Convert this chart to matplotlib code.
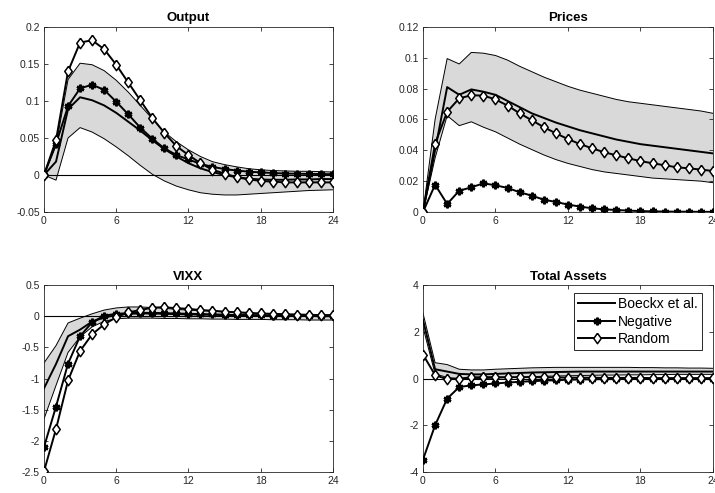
import numpy as np
import matplotlib
matplotlib.use('Agg')
import matplotlib.pyplot as plt
from matplotlib.ticker import FuncFormatter

plt.rcParams['font.family'] = ['Liberation Sans', 'DejaVu Sans']
plt.rcParams['axes.unicode_minus'] = False

horizon = np.arange(25)

# Output
out_boeckx = [0, 0.018, 0.089, 0.105, 0.101, 0.094, 0.084, 0.072, 0.060, 0.047, 0.035, 0.025,
              0.016, 0.009, 0.004, 0.0, -0.003, -0.005, -0.006, -0.0065, -0.0065, -0.006, -0.006, -0.0055, -0.0055]
out_upper = [0, 0.040, 0.129, 0.151, 0.149, 0.141, 0.128, 0.112, 0.094, 0.076, 0.058, 0.045,
             0.034, 0.025, 0.018, 0.014, 0.011, 0.0085, 0.007, 0.006, 0.0055, 0.005, 0.005, 0.0045, 0.004]
out_lower = [0, -0.007, 0.050, 0.064, 0.058, 0.049, 0.038, 0.026, 0.013, 0.001, -0.008, -0.015,
             -0.020, -0.024, -0.026, -0.027, -0.027, -0.026, -0.025, -0.024, -0.023, -0.022, -0.021, -0.0205, -0.020]
out_negative = [0, 0.042, 0.093, 0.117, 0.122, 0.115, 0.099, 0.082, 0.064, 0.049, 0.036, 0.027,
                0.021, 0.015, 0.011, 0.008, 0.006, 0.0045, 0.0035, 0.0027, 0.002, 0.0017, 0.0015, 0.0013, 0.001]
out_random = [0, 0.047, 0.140, 0.179, 0.182, 0.170, 0.149, 0.125, 0.101, 0.077, 0.057, 0.039,
              0.027, 0.016, 0.007, 0.002, -0.003, -0.006, -0.008, -0.009, -0.010, -0.010, -0.010, -0.010, -0.010]

# Prices
pr_boeckx = [0, 0.040, 0.081, 0.076, 0.0795, 0.078, 0.076, 0.072, 0.068, 0.064, 0.061, 0.058,
             0.0555, 0.053, 0.051, 0.049, 0.047, 0.0455, 0.044, 0.043, 0.042, 0.041, 0.040, 0.039, 0.038]
pr_upper = [0, 0.060, 0.0995, 0.096, 0.1035, 0.103, 0.1015, 0.0985, 0.0945, 0.091, 0.0875, 0.0845,
            0.0815, 0.079, 0.077, 0.075, 0.073, 0.0715, 0.0705, 0.0695, 0.0685, 0.0675, 0.0665, 0.0655, 0.064]
pr_lower = [0, 0.035, 0.0625, 0.056, 0.0585, 0.055, 0.052, 0.048, 0.044, 0.0405, 0.037, 0.034,
            0.0315, 0.0295, 0.0275, 0.026, 0.025, 0.024, 0.023, 0.022, 0.0215, 0.021, 0.0205, 0.020, 0.019]
pr_negative = [0, 0.0177, 0.0052, 0.0138, 0.016, 0.0186, 0.0173, 0.0156, 0.0128, 0.0106, 0.008, 0.0065,
               0.0048, 0.0035, 0.0024, 0.0017, 0.0013, 0.0009, 0.0006, 0.0004, 0.0003, 0.0002, 0.0002, 0.0001, 0.0001]
pr_random = [0, 0.0443, 0.065, 0.0737, 0.0757, 0.0755, 0.073, 0.069, 0.064, 0.0595, 0.055, 0.051,
             0.0473, 0.044, 0.0413, 0.0387, 0.0368, 0.0348, 0.033, 0.0316, 0.0303, 0.029, 0.0283, 0.0275, 0.0266]

# VIXX
vx_boeckx = [-1.157, -0.766, -0.32, -0.214, -0.086, -0.02, 0.02, 0.04, 0.045, 0.045, 0.04, 0.035,
             0.03, 0.027, 0.024, 0.021, 0.018, 0.015, 0.012, 0.01, 0.008, 0.006, 0.004, 0.002, 0.0]
vx_upper = [-0.75, -0.47, -0.107, -0.03, 0.04, 0.10, 0.134, 0.15, 0.15, 0.14, 0.13, 0.11,
            0.10, 0.09, 0.08, 0.07, 0.06, 0.05, 0.045, 0.04, 0.035, 0.03, 0.03, 0.025, 0.02]
vx_lower = [-1.65, -1.11, -0.58, -0.33, -0.17, -0.08, -0.04, -0.03, -0.03, -0.03, -0.035, -0.035,
            -0.04, -0.04, -0.045, -0.045, -0.05, -0.05, -0.05, -0.055, -0.055, -0.055, -0.06, -0.06, -0.06]
vx_negative = [-2.10, -1.45, -0.76, -0.32, -0.096, 0.01, 0.04, 0.05, 0.055, 0.055, 0.05, 0.045,
               0.04, 0.035, 0.03, 0.025, 0.02, 0.018, 0.015, 0.012, 0.01, 0.008, 0.006, 0.005, 0.004]
vx_random = [-2.49, -1.81, -1.03, -0.557, -0.29, -0.13, -0.016, 0.064, 0.10, 0.14, 0.145, 0.13,
             0.12, 0.10, 0.09, 0.075, 0.065, 0.055, 0.045, 0.04, 0.033, 0.028, 0.024, 0.02, 0.017]

# Total Assets
ta_boeckx = [2.5, 0.40, 0.30, 0.20, 0.18, 0.18, 0.20, 0.22, 0.24, 0.26, 0.27, 0.28,
             0.29, 0.30, 0.30, 0.30, 0.30, 0.30, 0.30, 0.30, 0.30, 0.30, 0.30, 0.30, 0.30]
ta_upper = [2.8, 0.68, 0.60, 0.40, 0.37, 0.37, 0.40, 0.42, 0.44, 0.46, 0.47, 0.48,
            0.48, 0.48, 0.48, 0.48, 0.48, 0.48, 0.47, 0.47, 0.46, 0.46, 0.45, 0.45, 0.44]
ta_lower = [2.2, 0.20, 0.05, 0.0, 0.0, 0.0, 0.02, 0.04, 0.06, 0.08, 0.10, 0.11,
            0.12, 0.13, 0.14, 0.15, 0.15, 0.16, 0.16, 0.17, 0.17, 0.18, 0.18, 0.18, 0.18]
ta_negative = [-3.47, -2.0, -0.86, -0.36, -0.29, -0.25, -0.21, -0.17, -0.14, -0.11, -0.09, -0.07,
               -0.05, -0.04, -0.03, -0.025, -0.02, -0.02, -0.015, -0.015, -0.01, -0.01, -0.01, -0.01, -0.01]
ta_random = [1.03, 0.15, -0.03, 0.0, 0.05, 0.06, 0.06, 0.06, 0.06, 0.06, 0.05, 0.05,
             0.04, 0.04, 0.04, 0.03, 0.03, 0.03, 0.03, 0.02, 0.02, 0.02, 0.02, 0.02, 0.02]

panels = [
    ('Output', out_boeckx, out_upper, out_lower, out_negative, out_random, (-0.05, 0.2), np.arange(-0.05, 0.21, 0.05)),
    ('Prices', pr_boeckx, pr_upper, pr_lower, pr_negative, pr_random, (0, 0.12), np.arange(0, 0.121, 0.02)),
    ('VIXX', vx_boeckx, vx_upper, vx_lower, vx_negative, vx_random, (-2.5, 0.5), np.arange(-2.5, 0.51, 0.5)),
    ('Total Assets', ta_boeckx, ta_upper, ta_lower, ta_negative, ta_random, (-4, 4), np.arange(-4, 4.1, 2)),
]

# axes rectangles in figure fractions (left, bottom, width, height)
rects = [(0.0615, 0.570, 0.404, 0.3753), (0.5916, 0.570, 0.4056, 0.3753),
         (0.0615, 0.0426, 0.404, 0.379), (0.5916, 0.0426, 0.4056, 0.379)]

# matlab-style diamond (taller than wide)
diamond = [(0, 1), (0.72, 0), (0, -1), (-0.72, 0), (0, 1)]

gray = '#262626'
fig = plt.figure(figsize=(7.15, 4.93), dpi=100)

for (title, med, up, lo, neg, rnd, ylim, yticks), rect in zip(panels, rects):
    ax = fig.add_axes(rect)
    ax.fill_between(horizon, lo, up, facecolor='#d9d9d9', edgecolor='none', zorder=1)
    ax.plot(horizon, up, color='black', lw=0.7, zorder=2)
    ax.plot(horizon, lo, color='black', lw=0.7, zorder=2)
    ax.axhline(0, color='black', lw=0.8, zorder=2)
    ax.plot(horizon, med, color='black', lw=1.4, zorder=3, label='Boeckx et al.')
    ax.plot(horizon, neg, color='black', lw=1.4, marker=(6, 2, 0), markersize=5.5, mew=1.8,
            zorder=4, label='Negative')
    ax.plot(horizon, rnd, color='black', lw=1.4, marker=diamond, markersize=7.5, mfc='white', mew=1.1,
            zorder=5, label='Random')
    ax.set_xlim(0, 24)
    ax.set_ylim(*ylim)
    ax.set_xticks([0, 6, 12, 18, 24])
    ax.set_yticks(yticks)
    ax.yaxis.set_major_formatter(FuncFormatter(lambda v, p: '%g' % round(v, 4)))
    ax.tick_params(direction='in', top=True, right=True, length=3, width=0.6,
                   labelsize=7.5, colors=gray, labelcolor=gray, pad=3)
    for s in ax.spines.values():
        s.set_color(gray)
        s.set_linewidth(0.6)
    ax.set_title(title, fontsize=9.5, fontweight='bold', pad=4)
    if title == 'Total Assets':
        leg = ax.legend(loc='upper right', bbox_to_anchor=(0.962, 0.957), borderaxespad=0,
                        fontsize=10, fancybox=False, framealpha=1, edgecolor=gray,
                        handlelength=2.7, handletextpad=0.2, labelspacing=0.25, borderpad=0.3)
        leg.get_frame().set_linewidth(0.7)

plt.savefig('out.png', dpi=100)
